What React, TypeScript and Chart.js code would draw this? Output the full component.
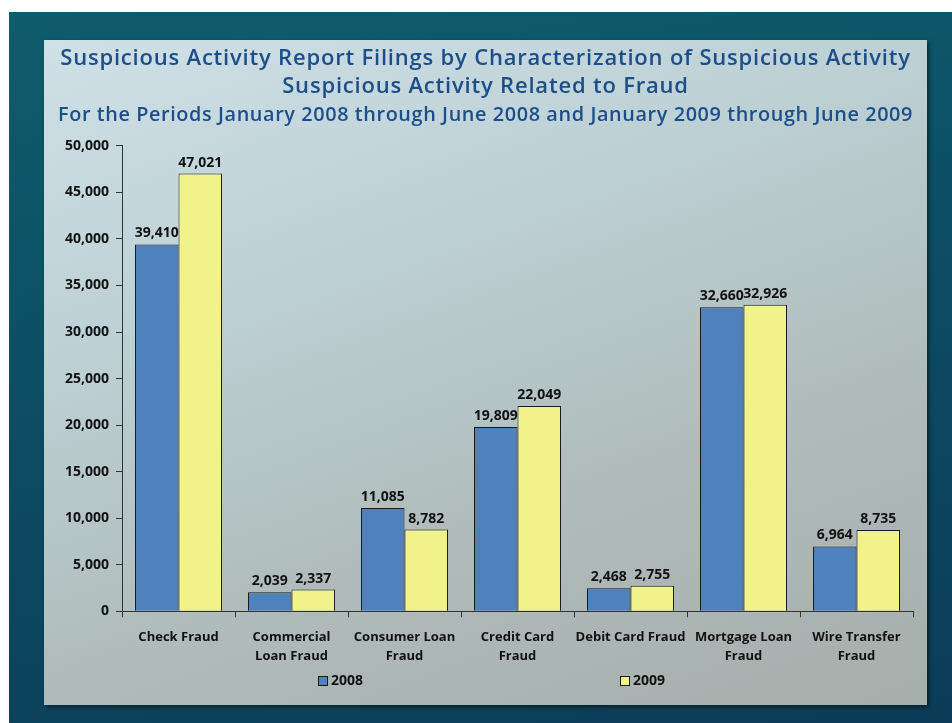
import React, { useEffect, useRef } from "react";
import { Chart, registerables } from "chart.js";

Chart.register(...registerables);

const categories: (string | string[])[] = [
  "Check Fraud",
  ["Commercial", "Loan Fraud"],
  ["Consumer Loan", "Fraud"],
  ["Credit Card", "Fraud"],
  "Debit Card Fraud",
  ["Mortgage Loan", "Fraud"],
  ["Wire Transfer", "Fraud"],
];
const values2008 = [39410, 2039, 11085, 19809, 2468, 32660, 6964];
const values2009 = [47021, 2337, 8782, 22049, 2755, 32926, 8735];
const titleLines = [
  "Suspicious Activity Report Filings by Characterization of Suspicious Activity",
  "Suspicious Activity Related to Fraud",
];
const subtitleText = "For the Periods January 2008 through June 2008 and January 2009 through June 2009";

const FONT = "'Open Sans', 'Liberation Sans', sans-serif";

const valueLabels = {
  id: "valueLabels",
  afterDatasetsDraw(chart: any) {
    const ctx = chart.ctx;
    ctx.save();
    ctx.font = `bold 14px ${FONT}`;
    ctx.fillStyle = "#111";
    ctx.textAlign = "center";
    ctx.textBaseline = "bottom";
    chart.data.datasets.forEach((ds: any, i: number) => {
      const meta = chart.getDatasetMeta(i);
      meta.data.forEach((el: any, j: number) => {
        const v = ds.data[j] as number;
        ctx.fillText(v.toLocaleString("en-US"), el.x, el.y - 4);
      });
    });
    ctx.restore();
  },
};

// Wider letter spacing for title/subtitle, like the original slide
const titleSpacing = {
  id: "titleSpacing",
  beforeDraw(chart: any) {
    chart.boxes.forEach((box: any) => {
      const t = box.options && box.options.text;
      if (box._spacingPatched || (typeof t !== "string" && !Array.isArray(t))) return;
      const spacing = Array.isArray(t) ? "0.8px" : "0.6px";
      const orig = box.draw.bind(box);
      box.draw = (area: any) => {
        const ctx = chart.ctx;
        ctx.save();
        ctx.letterSpacing = spacing;
        orig(area);
        ctx.restore();
      };
      box._spacingPatched = true;
    });
  },
};

// Excel-style spread legend (items far apart)
const spreadLegend = {
  id: "spreadLegend",
  afterDraw(chart: any) {
    const ctx = chart.ctx;
    const area = chart.chartArea;
    const offsets = [196, 498];
    const y = chart.height - 24;
    ctx.save();
    ctx.font = `bold 14px ${FONT}`;
    ctx.textBaseline = "middle";
    ctx.textAlign = "left";
    chart.data.datasets.forEach((ds: any, i: number) => {
      const x = area.left + offsets[i];
      ctx.fillStyle = ds.backgroundColor;
      ctx.strokeStyle = "#1a1a1a";
      ctx.lineWidth = 1;
      ctx.fillRect(x, y - 5, 10, 10);
      ctx.strokeRect(x + 0.5, y - 4.5, 9, 9);
      ctx.fillStyle = "#111";
      ctx.fillText(ds.label, x + 13, y);
    });
    ctx.restore();
  },
};

export default function App() {
  const ref = useRef<HTMLCanvasElement | null>(null);
  useEffect(() => {
    if (!ref.current) return;
    const chart = new Chart(ref.current, {
      type: "bar",
      data: {
        labels: categories,
        datasets: [
          {
            label: "2008",
            data: values2008,
            backgroundColor: "#4F81BD",
            borderColor: "#1a1a1a",
            borderWidth: 1,
            barPercentage: 1,
            categoryPercentage: 0.77,
          },
          {
            label: "2009",
            data: values2009,
            backgroundColor: "#F2F28A",
            borderColor: "#1a1a1a",
            borderWidth: 1,
            barPercentage: 1,
            categoryPercentage: 0.77,
          },
        ],
      },
      options: {
        animation: false,
        responsive: true,
        maintainAspectRatio: false,
        layout: { padding: { left: 14, right: 14, top: 0, bottom: 28 } },
        plugins: {
          title: {
            display: true,
            text: titleLines,
            color: "#1B4E8A",
            font: { family: FONT, size: 22, weight: "600", lineHeight: 1.27 },
            padding: { top: 5, bottom: 2 },
          },
          subtitle: {
            display: true,
            text: subtitleText,
            color: "#1B4E8A",
            font: { family: FONT, size: 20, weight: "600", lineHeight: 1.2 },
            padding: { top: 0, bottom: 19 },
          },
          legend: { display: false },
          tooltip: { enabled: false },
        },
        scales: {
          x: {
            grid: {
              display: true,
              drawOnChartArea: false,
              drawTicks: true,
              tickLength: 6,
              color: "#333",
            },
            border: { color: "#333", width: 1 },
            ticks: {
              color: "#111",
              font: { family: FONT, size: 13, weight: "bold", lineHeight: 1.45 },
              maxRotation: 0,
              autoSkip: false,
              padding: 11,
            },
          },
          y: {
            min: 0,
            max: 50000,
            grid: {
              display: true,
              drawOnChartArea: false,
              drawTicks: true,
              tickLength: 6,
              color: "#333",
            },
            border: { color: "#333", width: 1 },
            ticks: {
              stepSize: 5000,
              color: "#111",
              font: { family: FONT, size: 14, weight: "bold" },
              padding: 7,
              callback: (v: any) => Number(v).toLocaleString("en-US"),
            },
          },
        },
      },
      plugins: [titleSpacing, valueLabels, spreadLegend],
    });
    return () => chart.destroy();
  }, []);

  return (
    <div
      style={{
        position: "absolute",
        left: 9,
        top: 12,
        width: 943,
        height: 711,
        background: "linear-gradient(170deg, #0f5c6c 0%, #0c4c63 50%, #0c3c58 100%)",
        overflow: "hidden",
      }}
    >
      <div
        style={{
          position: "absolute",
          left: 35,
          top: 28,
          width: 883,
          height: 665,
          background: "linear-gradient(160deg, #cfe1e7 0%, #bccfd3 35%, #b0bcbb 65%, #a6aeab 100%)",
          boxShadow: "2px 2px 4px rgba(0,0,0,0.5)",
        }}
      >
        <canvas ref={ref} />
      </div>
    </div>
  );
}
